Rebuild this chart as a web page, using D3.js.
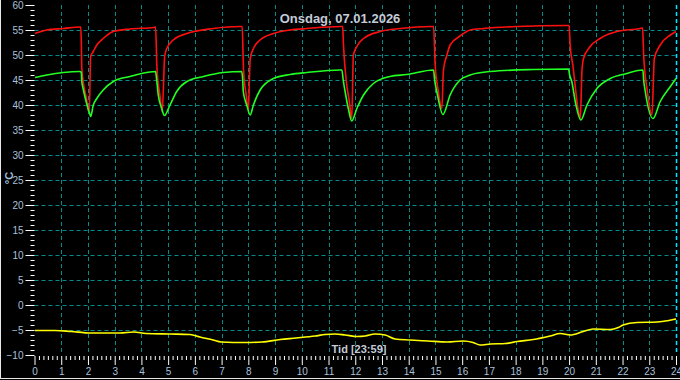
<!DOCTYPE html>
<html><head><meta charset="utf-8">
<script src="https://cdn.jsdelivr.net/npm/d3@7"></script>
<style>html,body{margin:0;padding:0;background:#000;}svg{display:block;}</style>
</head><body>
<script>
const titleText = "Onsdag, 07.01.2026";
const xLabel = "Tid [23:59]";
const yLabel = "°C";
const xTicks = d3.range(0, 25);
const yTicks = [-10,-5,0,5,10,15,20,25,30,35,40,45,50,55,60];

// [hour, °C]
const redSeries = [
[0.02,54.3],[0.46,55.0],[1.08,55.3],[1.70,55.6],[1.73,55.6],[1.75,53.0],[1.77,47.3],[1.95,41.0],[2.01,39.0],[2.05,38.7],[2.10,49.7],[2.20,50.7],[2.33,52.0],[2.57,53.3],[2.95,54.7],[3.57,55.2],[4.45,55.5],[4.53,55.6],
[4.58,47.5],[4.69,42.0],[4.78,38.7],[4.87,49.7],[4.95,51.3],[5.19,53.0],[5.70,54.3],[6.69,55.3],[7.69,55.7],[7.77,55.7],
[7.82,47.0],[7.92,42.0],[8.00,39.0],[8.07,49.3],[8.19,51.3],[8.44,53.0],[8.94,54.3],[9.56,55.0],[10.19,55.3],[11.43,55.7],[11.53,55.7],
[11.56,52.0],[11.66,45.0],[11.77,41.0],[11.87,37.3],[11.93,50.0],[12.06,51.7],[12.31,53.3],[12.93,54.7],[13.68,55.3],[14.87,55.7],[14.93,55.7],
[14.99,48.0],[15.10,43.0],[15.24,39.3],[15.30,47.0],[15.43,50.0],[15.55,52.0],[15.92,53.8],[16.30,55.0],[16.80,55.3],[18.05,55.7],[19.92,55.9],[20.00,55.9],
[20.04,52.0],[20.14,48.0],[20.35,38.7],[20.42,37.3],[20.48,46.7],[20.54,49.3],[20.79,51.7],[21.16,53.3],[21.79,54.7],[22.66,55.3],[22.75,55.4],
[22.79,50.0],[22.92,43.0],[23.10,38.0],[23.19,49.3],[23.41,52.0],[23.79,54.0],[24.0,54.7]
];
const greenSeries = [
[0.02,45.5],[0.46,46.0],[1.08,46.5],[1.70,46.7],[1.75,46.5],[1.77,44.7],[1.83,43.0],[1.95,40.3],[2.08,38.0],[2.10,37.7],[2.20,40.0],[2.33,41.3],[2.57,43.0],[2.95,44.7],[3.57,45.7],[4.20,46.5],[4.53,46.7],
[4.57,45.0],[4.63,42.0],[4.76,39.3],[4.86,37.9],[5.07,40.0],[5.32,42.7],[5.70,44.7],[6.32,45.7],[7.07,46.5],[7.75,46.7],
[7.79,45.0],[7.81,42.7],[7.94,40.0],[8.07,38.0],[8.19,40.0],[8.44,43.0],[8.94,45.3],[9.56,46.1],[10.19,46.5],[11.43,47.0],[11.50,47.0],
[11.55,45.0],[11.62,42.7],[11.74,39.3],[11.87,36.8],[12.06,39.3],[12.31,42.0],[12.68,44.3],[13.30,45.7],[13.93,46.1],[14.93,47.0],
[14.97,45.0],[15.05,42.7],[15.28,38.1],[15.55,42.0],[15.92,45.0],[16.30,46.0],[17.05,46.7],[18.67,47.1],[19.98,47.2],
[20.02,46.0],[20.10,44.7],[20.23,40.7],[20.44,37.0],[20.67,40.0],[21.04,43.3],[21.54,45.3],[22.16,46.3],[22.76,47.0],
[22.79,45.0],[22.85,42.7],[23.14,37.3],[23.41,40.7],[23.79,43.7],[24.0,45.3]
];
const yellowSeries = [
[0.02,-5.1],[0.77,-5.1],[1.37,-5.3],[2.08,-5.6],[3.20,-5.6],[3.72,-5.4],[4.17,-5.7],[5.07,-5.8],[5.82,-5.9],[6.19,-6.4],[6.68,-7.0],[6.98,-7.4],[7.88,-7.5],[8.51,-7.4],[9.19,-6.9],[9.79,-6.6],[10.50,-6.2],[10.87,-5.9],[11.25,-5.8],[11.62,-6.0],[12.07,-6.3],[12.37,-6.2],[12.74,-5.8],[13.12,-6.0],[13.49,-6.8],[14.05,-7.0],[14.73,-7.2],[15.44,-7.4],[16.04,-7.2],[16.41,-7.5],[16.67,-8.0],[17.05,-7.8],[17.61,-7.7],[18.06,-7.3],[18.66,-6.9],[19.29,-6.2],[19.67,-5.7],[20.04,-6.0],[20.53,-5.3],[20.90,-4.8],[21.54,-4.9],[21.84,-4.5],[22.02,-4.0],[22.54,-3.5],[23.29,-3.4],[23.59,-3.2],[23.90,-2.9],[24.0,-2.8]
];

const W = 680, H = 380;
const svg = d3.select("body").append("svg").attr("width", W).attr("height", H)
  .style("font-family", "Arial, 'Liberation Sans', sans-serif");
svg.append("rect").attr("width", W).attr("height", H).attr("fill", "#000");

const x = d3.scaleLinear().domain([0, 24]).range([34.5, 676]);
const y = d3.scaleLinear().domain([-10, 60]).range([355, 5]);

const gridColor = "#088a8a";
const labelColor = "#a9c0dc";

// grid
svg.append("g").selectAll("line").data(yTicks.filter(v => v > -10 && v < 60)).join("line")
  .attr("x1", x(0)).attr("x2", x(24)).attr("y1", d => Math.round(y(d)) + 0.5).attr("y2", d => Math.round(y(d)) + 0.5)
  .attr("stroke", gridColor).attr("stroke-width", 1).attr("stroke-dasharray", "4,3");
svg.append("g").selectAll("line").data(xTicks.filter(h => h > 0)).join("line")
  .attr("x1", d => Math.round(x(d)) + 0.5).attr("x2", d => Math.round(x(d)) + 0.5)
  .attr("y1", y(60)).attr("y2", y(-10))
  .attr("stroke", d => d === 24 ? "#00e8ff" : gridColor).attr("stroke-width", d => d === 24 ? 1.5 : 1)
  .attr("stroke-dasharray", "4,3");

// y axis
const yAxis = d3.axisLeft(y).tickValues(yTicks).tickSize(9).tickPadding(2);
const gy = svg.append("g").attr("transform", `translate(${x(0)},0)`).call(yAxis);
gy.select(".domain").remove();
gy.selectAll(".tick line").attr("stroke", "#fff");
gy.selectAll(".tick text").attr("fill", labelColor).style("font-size", "10px");
const yMinor = d3.axisLeft(y).tickValues(d3.range(-10, 61, 1).filter(v => v % 5 !== 0)).tickSize(4).tickFormat("");
const gym = svg.append("g").attr("transform", `translate(${x(0)},0)`).call(yMinor);
gym.select(".domain").remove();
gym.selectAll(".tick line").attr("stroke", "#fff");

// x axis
const xAxis = d3.axisBottom(x).tickValues(xTicks).tickSize(9).tickPadding(3);
const gx = svg.append("g").attr("transform", `translate(0,${y(-10) + 1})`).call(xAxis);
gx.select(".domain").remove();
gx.selectAll(".tick line").attr("stroke", "#fff");
gx.selectAll(".tick text").attr("fill", labelColor).style("font-size", "10px");
const xMinorVals = d3.range(0, 24 * 6 + 1).filter(i => i % 6 !== 0).map(i => i / 6);
const xMinor = d3.axisBottom(x).tickValues(xMinorVals).tickSize(4).tickFormat("");
const gxm = svg.append("g").attr("transform", `translate(0,${y(-10) + 1})`).call(xMinor);
gxm.select(".domain").remove();
gxm.selectAll(".tick line").attr("stroke", "#fff");

// lines
const line = d3.line().x(d => x(d[0])).y(d => y(d[1])).curve(d3.curveMonotoneX);
[[redSeries, "#ff1010"], [greenSeries, "#22ff22"], [yellowSeries, "#ffff00"]].forEach(([data, c]) => {
  svg.append("path").datum(data).attr("d", line).attr("fill", "none")
    .attr("stroke", c).attr("stroke-width", 1.6).attr("stroke-linejoin", "miter");
});

// texts
svg.append("text").attr("x", 340).attr("y", 23).attr("text-anchor", "middle")
  .attr("fill", "#c3cbd8").style("font-size", "13px").style("font-weight", "bold").text(titleText);
svg.append("text").attr("x", 359).attr("y", 353).attr("text-anchor", "middle")
  .attr("fill", "#c3cbd8").style("font-size", "11px").style("font-weight", "bold").text(xLabel);
svg.append("text").attr("transform", "translate(13,178) rotate(-90)").attr("text-anchor", "middle")
  .attr("fill", labelColor).style("font-size", "11px").style("font-weight", "bold").text(yLabel);

// frame
svg.append("line").attr("x1", 0.5).attr("x2", 0.5).attr("y1", 0).attr("y2", 379).attr("stroke", "#e8e8e8");
svg.append("line").attr("x1", 0).attr("x2", 680).attr("y1", 378.5).attr("y2", 378.5).attr("stroke", "#e8e8e8");
</script>
</body></html>
